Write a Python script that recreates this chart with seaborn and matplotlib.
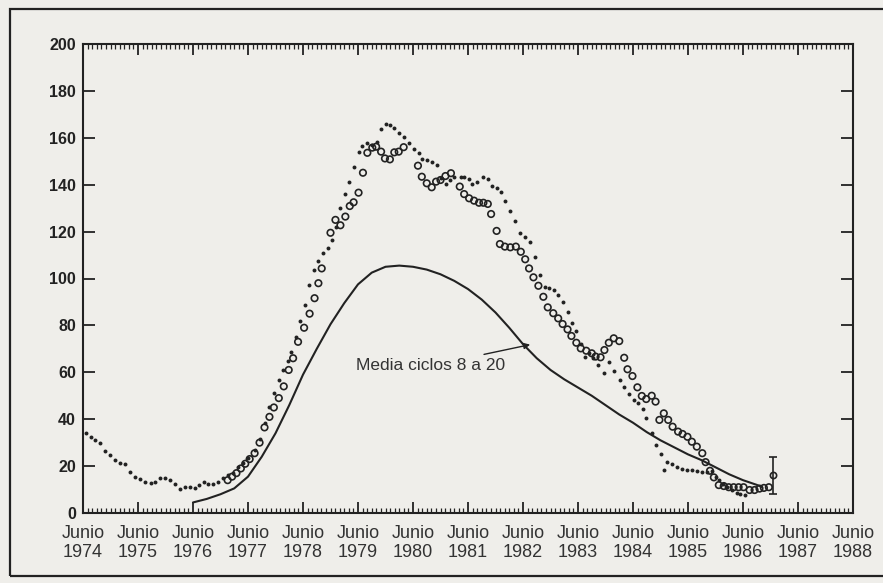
import numpy as np
import pandas as pd
import matplotlib
matplotlib.use("Agg")
import matplotlib.pyplot as plt
import seaborn as sns
from matplotlib import font_manager
from matplotlib.ticker import FixedLocator, MultipleLocator
from matplotlib.patches import Rectangle

# ── Data (decimal years, sunspot number) ────────────────────────────
dot_years = [
    1974.55, 1974.64, 1974.72, 1974.81, 1974.90, 1974.99, 1975.08, 1975.17, 1975.26, 1975.35,
    1975.44, 1975.53, 1975.63, 1975.73, 1975.81, 1975.90, 1975.99, 1976.08, 1976.17, 1976.27,
    1976.35, 1976.44, 1976.53, 1976.61, 1976.70, 1976.77, 1976.86, 1976.96, 1977.05, 1977.14,
    1977.23, 1977.32, 1977.41, 1977.50, 1977.62, 1977.72, 1977.80, 1977.89, 1977.97, 1978.06,
    1978.14, 1978.22, 1978.29, 1978.37, 1978.45, 1978.53, 1978.61, 1978.70, 1978.77, 1978.86,
    1978.95, 1979.03, 1979.10, 1979.18, 1979.26, 1979.34, 1979.43, 1979.52, 1979.58, 1979.67,
    1979.76, 1979.85, 1979.92, 1980.00, 1980.09, 1980.16, 1980.24, 1980.33, 1980.42, 1980.51,
    1980.60, 1980.66, 1980.75, 1980.84, 1980.93, 1981.01, 1981.10, 1981.18, 1981.25, 1981.37,
    1981.43, 1981.51, 1981.58, 1981.67, 1981.77, 1981.86, 1981.93, 1982.02, 1982.10, 1982.17,
    1982.26, 1982.36, 1982.45, 1982.54, 1982.63, 1982.72, 1982.81, 1982.90, 1982.98, 1983.07,
    1983.14, 1983.23, 1983.31, 1983.39, 1983.47, 1983.55, 1983.62, 1983.70, 1983.78, 1983.87,
    1983.98, 1984.06, 1984.15, 1984.26, 1984.34, 1984.42, 1984.51, 1984.59, 1984.68, 1984.74,
    1984.84, 1984.91, 1985.00, 1985.06, 1985.12, 1985.21, 1985.30, 1985.39, 1985.49, 1985.58,
    1985.67, 1985.76, 1985.85, 1985.93, 1986.00, 1986.06, 1986.13, 1986.21, 1986.30, 1986.39,
    1986.45, 1986.53,
]
dot_values = [
    34.0, 32.5, 31.0, 29.7, 26.6, 24.7, 22.6, 21.5, 20.8, 17.6,
    15.5, 14.4, 13.3, 12.7, 13.3, 15.1, 15.1, 14.1, 12.4, 10.2,
    11.0, 11.2, 10.5, 11.9, 13.3, 12.4, 12.4, 13.3, 14.8, 16.2,
    17.2, 19.5, 21.5, 23.5, 26.9, 31.4, 38.5, 45.3, 51.0, 56.7,
    61.0, 65.0, 68.8, 75.0, 82.0, 88.7, 97.2, 103.6, 107.6, 111.0,
    113.1, 116.4, 122.0, 130.2, 135.9, 141.3, 147.7, 154.1, 156.6, 157.6,
    157.0, 158.4, 163.6, 165.9, 165.5, 164.0, 162.2, 160.2, 157.6, 155.1,
    153.4, 150.8, 150.5, 149.8, 148.4, 143.0, 140.5, 142.0, 143.4, 143.4,
    143.2, 142.3, 140.3, 141.3, 143.4, 142.3, 139.4, 138.5, 137.0, 133.2,
    128.9, 124.5, 119.5, 117.6, 115.7, 109.0, 101.5, 96.5, 95.8, 95.1,
    93.0, 90.1, 85.8, 80.9, 77.7, 72.0, 66.7, 68.1, 66.0, 63.0,
    59.5, 64.5, 60.6, 56.7, 53.6, 50.6, 48.2, 46.8, 44.3, 40.4,
    34.2, 29.0, 25.2, 18.3, 21.9, 20.8, 19.8, 18.8, 18.3, 18.3,
    17.9, 17.6, 17.6, 17.9, 15.5, 14.1, 12.5, 11.0, 9.8, 8.4,
    8.1, 7.7,
]

circ_years = [
    1977.13, 1977.21, 1977.29, 1977.37, 1977.45, 1977.53, 1977.62, 1977.71, 1977.80, 1977.89,
    1977.97, 1978.06, 1978.15, 1978.24, 1978.32, 1978.41, 1978.52, 1978.62, 1978.71, 1978.78,
    1978.84, 1979.00, 1979.09, 1979.18, 1979.27, 1979.35, 1979.42, 1979.51, 1979.59, 1979.67,
    1979.76, 1979.83, 1979.92, 1979.99, 1980.08, 1980.16, 1980.24, 1980.33, 1980.59, 1980.66,
    1980.75, 1980.84, 1980.92, 1981.00, 1981.09, 1981.19, 1981.35, 1981.43, 1981.52, 1981.61,
    1981.70, 1981.78, 1981.86, 1981.92, 1982.02, 1982.08, 1982.17, 1982.27, 1982.37, 1982.46,
    1982.54, 1982.61, 1982.69, 1982.78, 1982.87, 1982.95, 1983.05, 1983.14, 1983.22, 1983.31,
    1983.38, 1983.47, 1983.55, 1983.65, 1983.75, 1983.82, 1983.91, 1983.98, 1984.06, 1984.15,
    1984.25, 1984.34, 1984.40, 1984.49, 1984.58, 1984.66, 1984.74, 1984.84, 1984.91, 1984.98,
    1985.06, 1985.14, 1985.22, 1985.32, 1985.40, 1985.49, 1985.57, 1985.66, 1985.76, 1985.82,
    1985.90, 1985.97, 1986.06, 1986.15, 1986.24, 1986.33, 1986.42, 1986.51, 1986.62, 1986.71,
    1986.80, 1986.88, 1986.97,
]
circ_values = [
    14.0, 15.5, 17.0, 19.0, 21.0, 23.0, 25.5, 30.0, 36.5, 41.0,
    45.0, 49.0, 54.0, 61.0, 66.0, 73.0, 79.0, 85.0, 91.6, 98.0,
    104.3, 119.5, 125.0, 122.7, 126.4, 130.9, 132.5, 136.6, 145.1, 153.6,
    155.8, 156.2, 154.1, 151.2, 150.8, 153.8, 154.1, 156.0, 148.1, 143.4,
    140.6, 138.9, 141.3, 142.0, 143.7, 144.9, 139.2, 136.0, 134.2, 133.2,
    132.3, 132.3, 131.8, 127.5, 120.3, 114.7, 113.6, 113.3, 113.6, 111.4,
    108.2, 104.3, 100.5, 96.9, 92.2, 87.7, 85.2, 83.0, 80.6, 78.3,
    75.5, 72.6, 70.2, 69.2, 68.1, 66.7, 66.4, 69.5, 72.6, 74.5,
    73.3, 66.2, 61.3, 58.4, 53.6, 49.9, 48.6, 50.0, 47.5, 39.7,
    42.5, 39.7, 36.8, 34.7, 33.7, 32.5, 30.4, 28.3, 25.5, 21.7,
    18.0, 15.2, 11.9, 11.5, 11.0, 11.0, 11.0, 11.0, 9.8, 9.8,
    10.4, 10.7, 11.0,
]

mean_years = [
    1976.50, 1976.75, 1977.00, 1977.25, 1977.50, 1977.75, 1978.00, 1978.25, 1978.50, 1978.75,
    1979.00, 1979.25, 1979.50, 1979.75, 1980.00, 1980.25, 1980.50, 1980.75, 1981.00, 1981.25,
    1981.50, 1981.75, 1982.00, 1982.25, 1982.50, 1982.75, 1983.00, 1983.25, 1983.50, 1983.75,
    1984.00, 1984.25, 1984.50, 1984.75, 1985.00, 1985.25, 1985.50, 1985.75, 1986.00, 1986.25,
    1986.50, 1986.75, 1986.85,
]
mean_values = [
    4.5, 6.0, 8.0, 10.5, 15.5, 24.0, 34.0, 46.0, 59.0, 70.0,
    80.5, 89.5, 97.5, 102.5, 105.0, 105.5, 105.0, 103.8, 101.8, 99.0,
    95.5, 91.0, 85.5, 79.0, 72.0, 66.0, 61.0, 57.0, 53.5, 50.0,
    46.0, 42.0, 38.5, 34.5, 31.0, 28.0, 25.0, 22.5, 19.5, 16.5,
    14.0, 12.0, 11.0,
]

# forecast point with error bar
last_year = [1987.04]
last_value = [16.0]
last_err = [7.8]

tick_years = list(range(1974, 1989))
y_ticks = list(range(0, 201, 20))

dots = pd.DataFrame({"year": dot_years, "value": dot_values})
circs = pd.DataFrame({"year": circ_years, "value": circ_values})
mean = pd.DataFrame({"year": mean_years, "value": mean_values})

# ── Style ────────────────────────────────────────────────────
paper = "#efeeea"
ink = "#222222"
sns.set_style("ticks")
names = {f.name for f in font_manager.fontManager.ttflist}
narrow = "Liberation Sans Narrow" if "Liberation Sans Narrow" in names else "Liberation Sans"
plt.rcParams["font.family"] = ["Liberation Sans", "DejaVu Sans"]

fig = plt.figure(figsize=(8.83, 5.83), dpi=100, facecolor=paper)
ax = fig.add_axes([83 / 883, 1 - 513 / 583, 770 / 883, 469 / 583])
ax.set_facecolor(paper)

sns.lineplot(data=mean, x="year", y="value", sort=False, color=ink, lw=1.5, ax=ax)
sns.scatterplot(data=dots, x="year", y="value", color=ink, s=8, linewidth=0, ax=ax)
sns.scatterplot(data=circs, x="year", y="value", facecolors="none", edgecolor=ink,
                s=22, linewidth=1.2, ax=ax)
ax.errorbar(last_year, last_value, yerr=last_err, fmt="o", mfc="none", mec=ink,
            ms=4.5, mew=1.2, ecolor=ink, elinewidth=1.2, capsize=3)

ax.set_xlim(1974.5, 1988.5)
ax.set_ylim(0, 200)

# ── Axes & ticks ─────────────────────────────────────────────
ax.xaxis.set_major_locator(FixedLocator([y + 0.5 for y in tick_years]))
ax.xaxis.set_minor_locator(MultipleLocator(1 / 12))
ax.set_xticklabels([f"Junio\n{y}" for y in tick_years], family=[narrow, "DejaVu Sans"],
                   fontsize=13, color="#333333", linespacing=1.15)
ax.yaxis.set_major_locator(FixedLocator(y_ticks))
ax.set_yticklabels([str(v) for v in y_ticks], fontweight="bold", fontsize=11.5, color=ink)

ax.tick_params(which="both", direction="in", top=True, right=True, color=ink)
ax.tick_params(axis="x", which="major", length=8, width=1.3, pad=9)
ax.tick_params(axis="x", which="minor", length=3.5, width=0.9)
ax.tick_params(axis="y", which="major", length=8.5, width=1.3, pad=5)
for s in ax.spines.values():
    s.set_linewidth(1.5)
    s.set_color(ink)
ax.set_xlabel("")
ax.set_ylabel("")

ax.annotate("Media ciclos 8 a 20", xy=(1982.63, 71.8), xytext=(1982.17, 62.8),
            ha="right", va="center", fontsize=12.5, color="#333333",
            family=[narrow, "DejaVu Sans"],
            arrowprops=dict(arrowstyle="-|>", color=ink, lw=1.0,
                            mutation_scale=9, shrinkA=2, shrinkB=0))

# outer frame of the printed figure (runs off the right edge)
fig.patches.append(Rectangle((10 / 883, 1 - 576 / 583), 1.05, 567 / 583,
                             transform=fig.transFigure, fill=False, lw=1.6,
                             edgecolor=ink, clip_on=False))

fig.savefig("out.png", dpi=100, facecolor=paper)
